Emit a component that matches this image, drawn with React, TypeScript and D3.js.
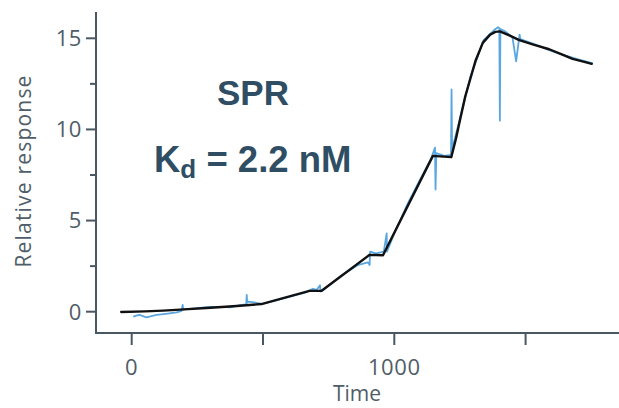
import React from "react";
import * as d3 from "d3";

const W = 619;
const H = 408;

// Fitted curve (black)
const fitTime = [-40, 50, 120, 200, 300, 400, 494, 677, 722, 906, 957, 1147, 1217, 1235, 1250, 1270, 1288, 1310, 1337, 1365, 1385, 1402, 1440, 1476, 1530, 1590, 1640, 1679, 1720, 1752];
const fitValue = [-0.02, 0.02, 0.06, 0.13, 0.22, 0.31, 0.42, 1.14, 1.14, 3.12, 3.1, 8.55, 8.48, 9.5, 10.5, 11.8, 12.7, 13.8, 14.75, 15.2, 15.35, 15.38, 15.15, 14.9, 14.65, 14.4, 14.1, 13.87, 13.72, 13.6];

// Measured response (blue)
const dataTime = [6, 20, 32, 45, 57, 75, 95, 130, 171, 190, 194, 196, 220, 247, 298, 340, 374, 418, 436, 438, 440, 444, 476, 494, 560, 620, 660, 690, 705, 717, 719, 730, 800, 860, 900, 906, 908, 930, 960, 971, 972, 1000, 1050, 1100, 1140, 1155, 1157, 1160, 1190, 1216, 1218, 1220, 1250, 1290, 1340, 1380, 1395, 1400, 1402, 1404, 1420, 1450, 1464, 1477, 1480, 1530, 1590, 1640, 1700, 1757];
const dataValue = [-0.27, -0.2, -0.18, -0.26, -0.31, -0.24, -0.18, -0.12, -0.04, 0.05, 0.37, 0.13, 0.16, 0.19, 0.27, 0.26, 0.24, 0.37, 0.4, 0.92, 0.5, 0.55, 0.49, 0.42, 0.66, 0.9, 1.05, 1.25, 1.2, 1.45, 1.1, 1.2, 2.0, 2.55, 2.7, 2.56, 3.3, 3.2, 3.3, 4.3, 3.3, 4.3, 5.9, 7.3, 8.4, 9.0, 6.7, 8.7, 8.55, 8.6, 12.2, 8.9, 10.6, 12.9, 14.9, 15.45, 15.6, 15.55, 10.48, 15.5, 15.4, 15.05, 13.74, 15.2, 14.95, 14.7, 14.35, 14.1, 13.85, 13.63];

const yMajorTicks = [0, 5, 10, 15];
const yMinorTicks = [2.5, 7.5, 12.5];
const xTicks = [0, 500, 1000, 1500];
const xLabelTicks = [0, 1000];

const xLabel = "Time";
const yLabel = "Relative response";

export default function App() {
  const x = d3.scaleLinear().domain([0, 1500]).range([131.7, 525.6]);
  const y = d3.scaleLinear().domain([0, 15]).range([311.7, 38.3]);

  const axisX = 96;
  const axisY = 333;
  const axisColor = "#4a5864";
  const textColor = "#4f5d68";
  const font = "'Open Sans', Lato, sans-serif";

  const fitLine = d3
    .line<number>()
    .x((_, i) => x(fitTime[i]))
    .y((d) => y(d))(fitValue) as string;

  const dataLine = d3
    .line<number>()
    .x((_, i) => x(dataTime[i]))
    .y((d) => y(d))(dataValue) as string;

  return (
    <svg
      width={W}
      height={H}
      style={{ position: "absolute", left: 0, top: 0, background: "#fff" }}
    >
      {/* axes */}
      <line x1={axisX} x2={axisX} y1={12} y2={axisY + 1} stroke={axisColor} strokeWidth={2} />
      <line x1={axisX - 1} x2={W} y1={axisY} y2={axisY} stroke={axisColor} strokeWidth={2} />

      {yMajorTicks.map((t) => (
        <g key={"ym" + t}>
          <line x1={axisX - 10} x2={axisX} y1={y(t)} y2={y(t)} stroke={axisColor} strokeWidth={2} />
          <text
            x={82}
            y={y(t)}
            dy="0.36em"
            textAnchor="end"
            fontFamily={font}
            fontSize={22}
            letterSpacing={0.6}
            fill={textColor}
          >
            {t}
          </text>
        </g>
      ))}
      {yMinorTicks.map((t) => (
        <line key={"yn" + t} x1={axisX - 6} x2={axisX} y1={y(t)} y2={y(t)} stroke={axisColor} strokeWidth={2} />
      ))}
      {xTicks.map((t) => (
        <line key={"xt" + t} x1={x(t)} x2={x(t)} y1={axisY} y2={axisY + 12} stroke={axisColor} strokeWidth={2} />
      ))}
      {xLabelTicks.map((t) => (
        <text
          key={"xl" + t}
          x={x(t)}
          y={375}
          textAnchor="middle"
          fontFamily={font}
          fontSize={22}
          letterSpacing={0.6}
          fill={textColor}
        >
          {t}
        </text>
      ))}

      <text x={357} y={401} textAnchor="middle" fontFamily={font} fontSize={21} fill={textColor}>
        {xLabel}
      </text>
      <text
        transform={`translate(31,171) rotate(-90)`}
        textAnchor="middle"
        fontFamily={font}
        fontSize={21}
        letterSpacing={1.2}
        fill={textColor}
      >
        {yLabel}
      </text>

      {/* data */}
      <path d={dataLine} fill="none" stroke="#5aa6e0" strokeWidth={1.8} strokeLinejoin="round" />
      <path
        d={fitLine}
        fill="none"
        stroke="#111"
        strokeWidth={2.4}
        strokeLinejoin="round"
        strokeLinecap="round"
      />

      {/* annotations */}
      <text
        x={253}
        y={105}
        textAnchor="middle"
        fontFamily="'Liberation Sans', Arial, sans-serif"
        fontWeight="bold"
        fontSize={35}
        fill="#2f4e64"
      >
        SPR
      </text>
      <text
        x={154}
        y={172}
        fontFamily="'Liberation Sans', Arial, sans-serif"
        fontWeight="bold"
        fontSize={36.5}
        fill="#2f4e64"
      >
        K
        <tspan fontSize={26} dy={6}>
          d
        </tspan>
        <tspan dy={-6}> = 2.2 nM</tspan>
      </text>
    </svg>
  );
}
